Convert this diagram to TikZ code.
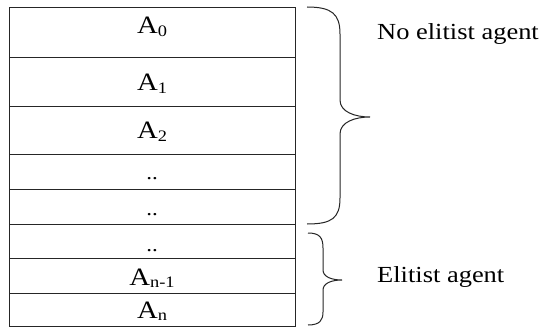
\documentclass[tikz,border=0pt]{standalone}
\usepackage{fontspec}
\setmainfont{Liberation Serif}[FakeStretch=1.15]
\newcommand{\subtx}[1]{\raisebox{-2.5pt}{\fontsize{16}{18}\selectfont #1}}
\begin{document}
\begin{tikzpicture}[x=1pt,y=-1pt,
  row/.style={draw=black!85, line width=1pt, minimum width=286pt, inner sep=0pt, anchor=north west},
  lab/.style={anchor=base, inner sep=0pt, font=\fontsize{25}{30}\selectfont},
  dotlab/.style={anchor=base, inner sep=0pt, font=\fontsize{20}{24}\selectfont},
  side/.style={anchor=base west, inner sep=0pt, font=\fontsize{23}{28}\selectfont},
  bracepath/.style={draw=black!85, line width=1pt}]
\useasboundingbox (0,0) rectangle (543,331);
\fill[white] (0,0) rectangle (543,331);
% rows
\node[row, minimum height=50pt] (r0) at (9,7) {};
\node[row, minimum height=49pt] (r1) at (9,57) {};
\node[row, minimum height=48pt] (r2) at (9,106) {};
\node[row, minimum height=35pt] (r3) at (9,154) {};
\node[row, minimum height=35pt] (r4) at (9,189) {};
\node[row, minimum height=34pt] (r5) at (9,224) {};
\node[row, minimum height=35pt] (r6) at (9,258) {};
\node[row, minimum height=33pt] (r7) at (9,293) {};
% labels
\node[lab] (t0) at (152,34) {A\subtx{0}};
\node[lab] (t1) at (152,91) {A\subtx{1}};
\node[lab] (t2) at (152,139) {A\subtx{2}};
\node[dotlab] (t3) at (152,180) {..};
\node[dotlab] (t4) at (152,215) {..};
\node[dotlab] (t5) at (152,251) {..};
\node[lab] (t6) at (152,285) {A\subtx{n-1}};
\node[lab] (t7) at (152,318) {A\subtx{n}};
% braces
\draw[bracepath] (307,7) .. controls (332,7) and (340,14) .. (340,34) -- (340,100)
  .. controls (340,112) and (355,117) .. (370,117)
  .. controls (355,117) and (340,122) .. (340,134) -- (340,198)
  .. controls (340,218) and (332,224) .. (307,224);
\draw[bracepath] (308,233) .. controls (320,233) and (323,238) .. (323,248) -- (323,270)
  .. controls (323,277) and (332,280) .. (342,280)
  .. controls (332,280) and (323,283) .. (323,290) -- (323,312)
  .. controls (323,320) and (320,325) .. (308,325);
% side labels
\node[side] (s1) at (377,40) {No elitist agent};
\node[side] (s2) at (377,282) {Elitist agent};
\end{tikzpicture}
\end{document}
